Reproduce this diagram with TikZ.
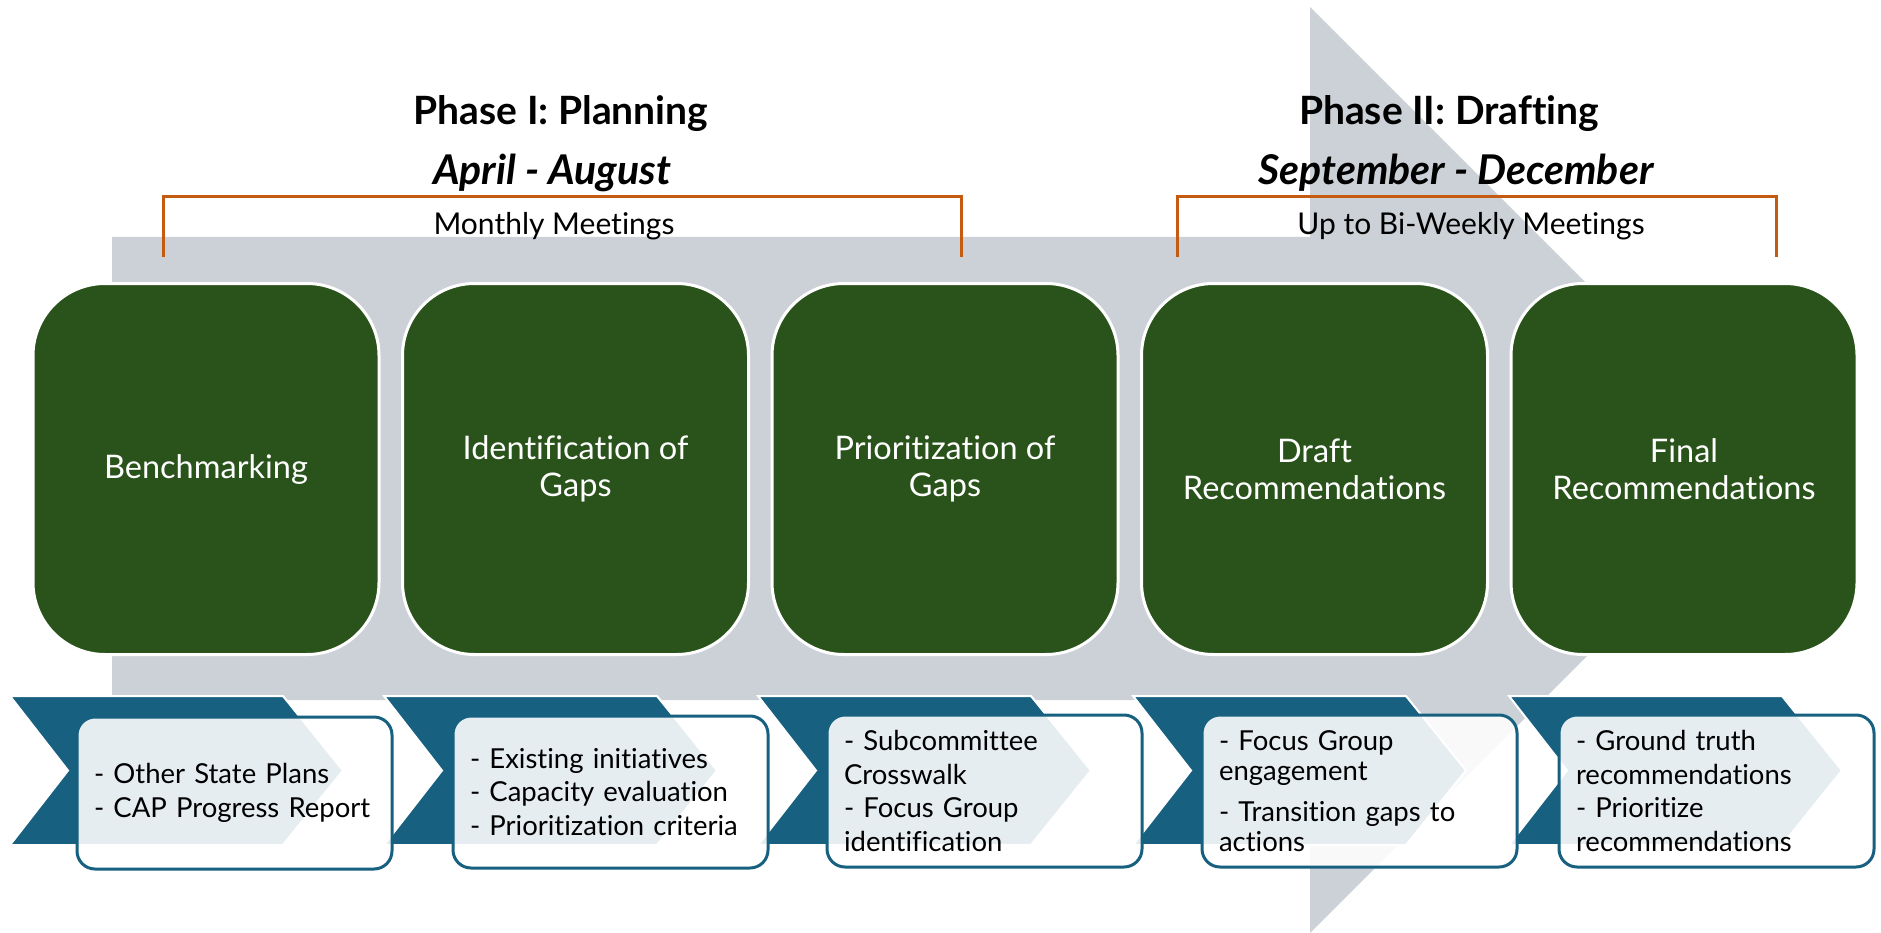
\documentclass[tikz,border=0pt]{standalone}
\usepackage{fontspec}
\setmainfont{Lato}[Ligatures=NoCommon]
\usepackage{tikz}
\usetikzlibrary{positioning}
\definecolor{arrowgray}{RGB}{204,209,216}
\definecolor{phasegreen}{RGB}{41,83,26}
\definecolor{taskblue}{RGB}{23,96,128}
\definecolor{bracketorange}{RGB}{197,90,17}

\begin{document}
\begin{tikzpicture}[x=1pt,y=-1pt,
  phasebox/.style={draw=white, line width=3pt, fill=phasegreen, rounded corners=72pt,
    minimum width=346pt, minimum height=371pt, text=white, align=center,
    font=\fontsize{32.5}{37}\selectfont},
  chevron/.style={fill=taskblue, draw=white, line width=2pt},
  taskbox/.style={draw=taskblue, line width=3pt, fill=white, fill opacity=0.89,
    text opacity=1, rounded corners=18pt, minimum width=315pt, minimum height=152pt,
    text width=281pt, inner xsep=17pt, align=left,
    font=\fontsize{27.5}{33.5}\selectfont},
  bracket/.style={draw=bracketorange, line width=3pt},
  phasetitle/.style={font=\fontsize{39}{44}\selectfont\bfseries},
  monthtitle/.style={font=\fontsize{41}{46}\selectfont\bfseries\itshape},
  meetingtext/.style={font=\fontsize{30}{34}\selectfont},
]
\useasboundingbox (0,0) rectangle (1881,933);

% big background arrow
\fill[arrowgray] (112,237) -- (1310,237) -- (1310,7) -- (1773,470) --
  (1310,933) -- (1310,700) -- (112,700) -- cycle;

% phase headings
\node[phasetitle] (planning) at (561,114) {Phase I: Planning};
\node[monthtitle] (aprilaug) at (552,173) {April - August};
\node[phasetitle] (drafting) at (1449,114) {Phase II: Drafting};
\node[monthtitle] (sepdec) at (1456,173) {September - December};

% brackets
\draw[bracket] (163,257) |- (961,197) -- (961,257);
\draw[bracket] (1177,257) |- (1776,197) -- (1776,257);
\node[meetingtext] (monthly) at (554,226) {Monthly Meetings};
\node[meetingtext] (biweekly) at (1471,226) {Up to Bi-Weekly Meetings};

% phase boxes
\node[phasebox] (bench) at (206,469) {Benchmarking};
\node[phasebox] (ident) at (575.5,469) {Identification of\\Gaps};
\node[phasebox] (prior) at (945,469) {Prioritization of\\Gaps};
\node[phasebox] (draft) at (1314.5,469) {Draft\\Recommendations};
\node[phasebox] (final) at (1684,469) {Final\\Recommendations};

% chevrons
\filldraw[chevron] (10,696) -- (283,696) -- (343,770.5) -- (283,845) -- (10,845) -- (68,770.5) -- cycle;
\filldraw[chevron] (384,696) -- (657,696) -- (717,770.5) -- (657,845) -- (384,845) -- (442,770.5) -- cycle;
\filldraw[chevron] (758,696) -- (1031,696) -- (1091,770.5) -- (1031,845) -- (758,845) -- (816,770.5) -- cycle;
\filldraw[chevron] (1133,696) -- (1406,696) -- (1466,770.5) -- (1406,845) -- (1133,845) -- (1191,770.5) -- cycle;
\filldraw[chevron] (1509,696) -- (1782,696) -- (1842,770.5) -- (1782,845) -- (1509,845) -- (1567,770.5) -- cycle;

% task boxes
\node[taskbox] (bench tasks) at (234.5,793) {- Other State Plans\\- CAP Progress Report};
\node[taskbox] (ident tasks) at (610.5,792) {- Existing initiatives\\- Capacity evaluation\\- Prioritization criteria};
\node[taskbox] (prior tasks) at (984.5,791) {- Subcommittee\\Crosswalk\\- Focus Group\\identification};
\node[taskbox, font=\fontsize{27.5}{30.5}\selectfont] (draft tasks) at (1359.5,791)
  {- Focus Group\\engagement\\[10pt]- Transition gaps to\\actions};
\node[taskbox] (final tasks) at (1716.5,791) {- Ground truth\\recommendations\\- Prioritize\\recommendations};
\end{tikzpicture}
\end{document}
